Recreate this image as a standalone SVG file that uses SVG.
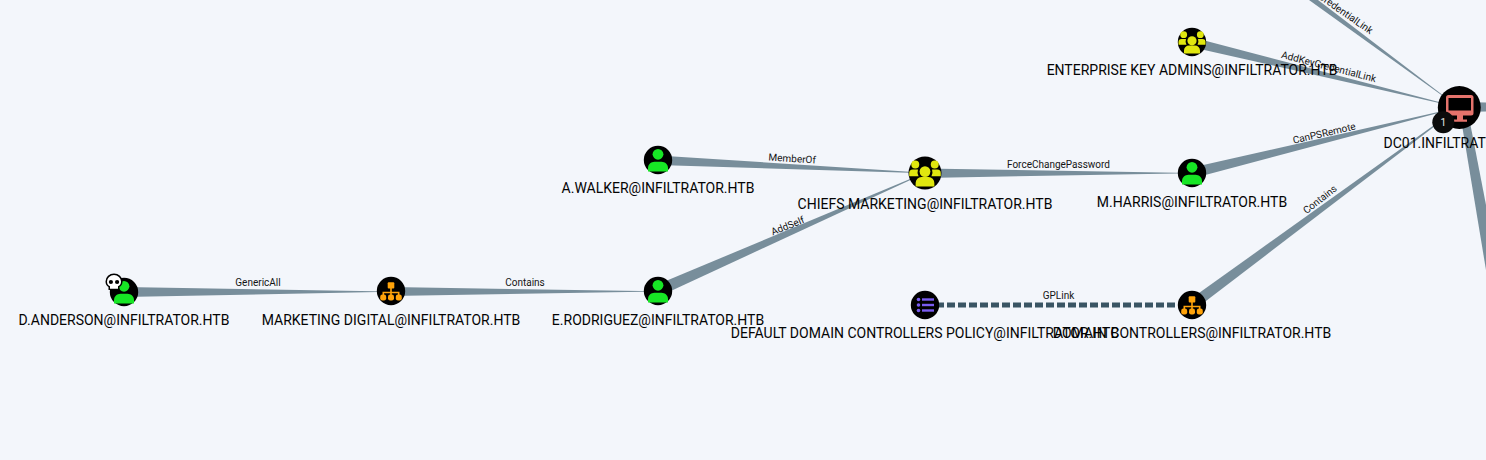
<svg xmlns="http://www.w3.org/2000/svg" width="1486" height="460" viewBox="0 0 1486 460">
<style>
.e{fill:#788e9b}
.gp{fill:none;stroke:#3a5564;stroke-width:5;stroke-dasharray:8 3}
.l{font:14px Roboto,"Liberation Sans",sans-serif;fill:#000;text-anchor:middle;opacity:.98}
.el{font:10px Roboto,"Liberation Sans",sans-serif;fill:#111;text-anchor:middle;opacity:.98}
.bg{fill:#000}
.g{fill:#17e625}
.y{fill:#e0e70f}
.o{fill:#ffa30a}
.p{fill:#7a5cf0}
.r{fill:#e5736c}
</style>
<defs>
<g id="user"><circle cx="0" cy="-5.700" r="5.400" class="g"/><path d="M-10 11.500V8c0-3.500 3-6.300 6.500-6.300h7c3.500 0 6.500 2.800 6.500 6.300v3.500z" class="g"/></g>
<g id="group"><circle cx="-8.300" cy="-7.300" r="3.400" class="y"/><circle cx="8.300" cy="-7.300" r="3.400" class="y"/><path d="M-13.500 2.800v-2.800a3 3 0 0 1 3-3h4.500a7 7 0 0 0 .5 5.800z M13.500 2.800v-2.800a3 3 0 0 0-3-3h-4.500a7 7 0 0 1-.5 5.800z" class="y"/><circle cx="0" cy="-1.200" r="4.600" class="y"/><path d="M-8 11.500V8.500a5 5 0 0 1 5-5h6a5 5 0 0 1 5 5v3z" class="y"/></g>
<g id="ou"><rect x="-3.300" y="-8.800" width="6.600" height="6.300" rx="1" class="o"/><path d="M-.8-3h1.600v3.700h7.700v4h-1.600v-2.400h-6.100v2.400h-1.600v-2.400h-6.100v2.400h-1.600v-4h7.700z" class="o"/><rect x="-10.800" y="3.500" width="6" height="6" rx="2.200" class="o"/><rect x="-3" y="3.500" width="6" height="6" rx="2.200" class="o"/><rect x="4.800" y="3.500" width="6" height="6" rx="2.200" class="o"/></g>
</defs>
<rect width="1486" height="460" fill="#f3f6fb"/>
<g id="connectors">
<polygon class="e" points="124,287 391,291.600 391,291.800 124,297"/>
<polygon class="e" points="391,287 658,291.300 658,291.600 391,296"/>
<polygon class="e" points="655,285.500 925,172.800 925,173.200 660,296"/>
<polygon class="e" points="658,155.500 925,172.800 925,173.200 658,165"/>
<polygon class="e" points="925,168.500 1192,172.900 1192,173.200 925,178"/>
<polygon class="e" points="1190,168 1459,107.300 1459,107.600 1194,178"/>
<polygon class="e" points="1193,37.500 1459,107.300 1459,107.600 1191,47"/>
<polygon class="e" points="1309,0 1318,0 1459,107.500 1458.800,107.500"/>
<polygon class="e" points="1188.500,300.500 1459,107.300 1459.300,107.600 1195.500,309"/>
<polygon class="e" points="1459,102 1486,102.500 1486,111.500 1459,112"/>
<polygon class="e" points="1459,107 1467,107 1486,205 1486,270"/>
<path class="gp" d="M925 305H1192"/>
<text class="el" x="792" y="162" transform="rotate(3.600 792 162)">MemberOf</text>
<text class="el" x="1058.500" y="168">ForceChangePassword</text>
<text class="el" x="258" y="286">GenericAll</text>
<text class="el" x="525" y="286">Contains</text>
<text class="el" x="789" y="229" transform="rotate(-22 789 229)">AddSelf</text>
<text class="el" x="1058.500" y="299">GPLink</text>
<text class="el" x="1325" y="136.500" transform="rotate(-13 1325 136.500)">CanPSRemote</text>
<text class="el" x="1322" y="202" transform="rotate(-38 1322 202)">Contains</text>
<text class="el" x="1328" y="70" transform="rotate(14.500 1328 70)">AddKeyCredentialLink</text>
<text class="el" x="1330" y="6.500" transform="rotate(35 1330 6.500)">AddKeyCredentialLink</text>
</g>
<g id="n-anderson"><circle cx="124" cy="292" r="14.200" class="bg"/><use href="#user" x="124" y="292"/>
<path d="M114 273.500a8.500 8 0 0 1 8.500 8c0 2.700-1 4.300-3 5.400v3.100h-11v-3.100c-2-1.100-3-2.700-3-5.400a8.500 8 0 0 1 8.500-8z" fill="#000"/><path d="M114 275a7 6.500 0 0 1 7 6.500c0 2.500-1 3.800-3 4.800v2.400h-8v-2.400c-2-1-3-2.300-3-4.800a7 6.500 0 0 1 7-6.500z" fill="#fff"/><circle cx="110.900" cy="282" r="2.100"/><circle cx="117.100" cy="282" r="2.100"/>
<text class="l" x="124" y="325">D.ANDERSON@INFILTRATOR.HTB</text></g>
<g id="n-marketing"><circle cx="391" cy="291" r="14.200" class="bg"/><use href="#ou" x="391" y="291"/><text class="l" x="391" y="325">MARKETING DIGITAL@INFILTRATOR.HTB</text></g>
<g id="n-rodriguez"><circle cx="658" cy="291" r="14.200" class="bg"/><use href="#user" x="658" y="291"/><text class="l" x="658" y="325">E.RODRIGUEZ@INFILTRATOR.HTB</text></g>
<g id="n-walker"><circle cx="658" cy="160" r="14.200" class="bg"/><use href="#user" x="658" y="160"/><text class="l" x="658" y="193">A.WALKER@INFILTRATOR.HTB</text></g>
<g id="n-chiefs"><circle cx="925" cy="173" r="16.500" class="bg"/><use href="#group" transform="translate(925 173) scale(1.170)"/><text class="l" x="925" y="209">CHIEFS MARKETING@INFILTRATOR.HTB</text></g>
<g id="n-harris"><circle cx="1192" cy="173" r="14.200" class="bg"/><use href="#user" x="1192" y="173"/><text class="l" x="1192" y="207">M.HARRIS@INFILTRATOR.HTB</text></g>
<g id="n-enterprise"><circle cx="1192" cy="42" r="14.200" class="bg"/><use href="#group" x="1192" y="42"/><text class="l" x="1192" y="75">ENTERPRISE KEY ADMINS@INFILTRATOR.HTB</text></g>
<g id="n-policy"><circle cx="925" cy="305" r="14.200" class="bg"/><g class="p"><circle cx="918.500" cy="299.500" r="1.800"/><circle cx="918.500" cy="305" r="1.800"/><circle cx="918.500" cy="310.500" r="1.800"/><rect x="922" y="298.300" width="12" height="2.400"/><rect x="922" y="303.800" width="12" height="2.400"/><rect x="922" y="309.300" width="12" height="2.400"/></g><text class="l" x="925" y="338">DEFAULT DOMAIN CONTROLLERS POLICY@INFILTRATOR.HTB</text></g>
<g id="n-domain"><circle cx="1192" cy="305" r="14.200" class="bg"/><use href="#ou" x="1192" y="305"/><text class="l" x="1192" y="338">DOMAIN CONTROLLERS@INFILTRATOR.HTB</text></g>
<g id="n-dc01"><circle cx="1459.300" cy="107.500" r="21.500" class="bg"/><rect x="1446" y="95" width="27.500" height="20.500" rx="2.500" class="r"/><rect x="1448.500" y="98" width="22.500" height="12.500" fill="#000"/><path d="M1457 115h6v4.500h4v2.200h-13v-2.200h3z" class="r"/><circle cx="1443.300" cy="122.300" r="11" fill="#0b0b0b"/><text x="1443.300" y="126" font-family="Roboto,'Liberation Sans',sans-serif" font-size="10" fill="#e8e8e8" text-anchor="middle">1</text><text class="l" x="1459" y="148">DC01.INFILTRATOR.HTB</text></g>
</svg>
